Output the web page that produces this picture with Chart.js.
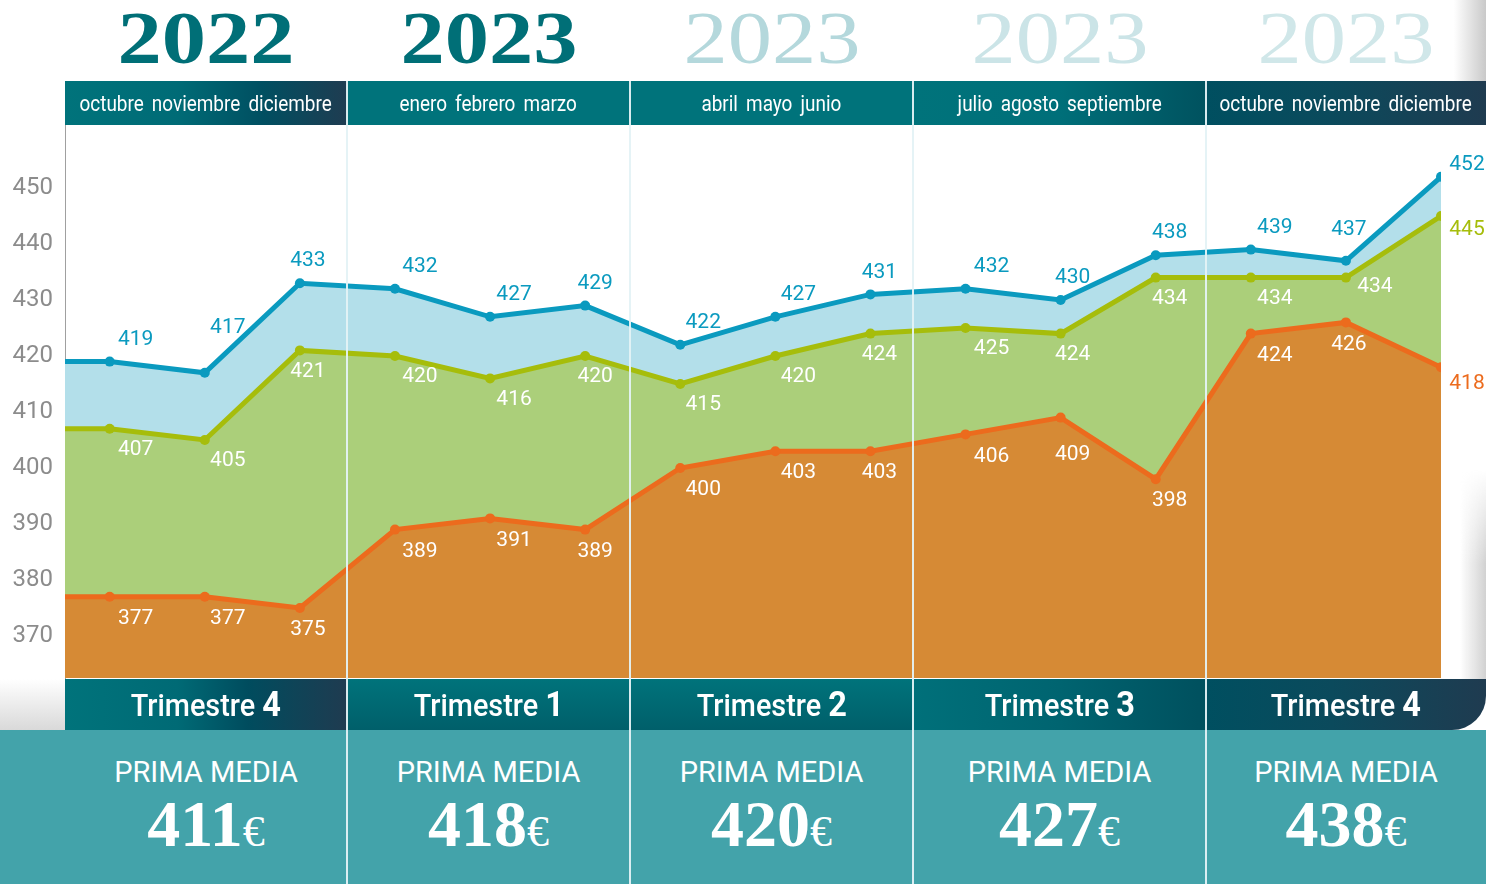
<!DOCTYPE html>
<html lang="es">
<head>
<meta charset="utf-8">
<script src="https://cdn.jsdelivr.net/npm/chart.js@4.4.1/dist/chart.umd.min.js"></script>
<style>
  body { margin: 0; background: #fff; }
  #wrap { position: relative; width: 1486px; height: 884px; overflow: hidden; font-family: Roboto, sans-serif; }
  #chart-box { position: absolute; left: 0; top: 0; width: 1486px; height: 884px; z-index: 2; }
  .abs { position: absolute; white-space: nowrap; }
  .year { top: 0; height: 76px; line-height: 76px; text-align: center; font-family: "Liberation Serif", serif; font-size: 75px; }
  .year span { display: inline-block; transform: scaleX(1.18); }
  .head { top: 81px; height: 44px; display: flex; justify-content: center; align-items: center; color: #fff; font-size: 22px; z-index: 1; }
  .head span { display: inline-block; transform: scaleX(0.86); word-spacing: 4px; }
  .tri { top: 679px; height: 51px; line-height: 51px; text-align: center; color: #fff; font-size: 31px; font-weight: 500; z-index: 1; }
  .tri span { display: inline-block; transform: scaleX(0.93); }
  .tri b { font-size: 35px; font-weight: 700; }
  .avg { top: 730px; height: 154px; text-align: center; color: #fff; z-index: 1; }
  .avg .lbl { margin-top: 25px; font-size: 29px; line-height: 34px; }
  .avg .val { font-family: "Liberation Serif", serif; font-weight: 700; font-size: 66px; line-height: 66px; margin-top: 2px; }
  .avg .val small { font-weight: 400; font-size: 44px; }
  .sep { top: 81px; width: 2px; height: 803px; background: rgba(228, 242, 245, 0.95); z-index: 3; }
  .shadow-r { left: 1446px; top: 470px; width: 40px; height: 209px;
    background: linear-gradient(to right, rgba(255,255,255,0), rgba(255,255,255,0) 35%, rgba(205,205,205,0.9));
    -webkit-mask-image: linear-gradient(to bottom, transparent, #000 45%); mask-image: linear-gradient(to bottom, transparent, #000 45%); }
</style>
</head>
<body>
<div id="wrap">
  <div class="abs" style="left:0;top:730px;width:1486px;height:154px;background:#43a3aa;"></div>
  <div class="abs" style="left:0;top:679px;width:65px;height:51px;background:linear-gradient(#ffffff,#d9d9d9);"></div>
  <div class="abs" style="left:1440px;top:0;width:46px;height:81px;background:linear-gradient(to right,rgba(255,255,255,0),rgba(255,255,255,0) 30%,#c9c9c9);"></div>
  <div class="abs shadow-r"></div>
  <div id="chart-box"><canvas id="chart"></canvas></div>
</div>
<script>
// months, one per point
const months = [
  "octubre 2022", "noviembre 2022", "diciembre 2022",
  "enero", "febrero", "marzo", "abril", "mayo", "junio",
  "julio", "agosto", "septiembre", "octubre", "noviembre", "diciembre",
];
const blueValues = [419, 417, 433, 432, 427, 429, 422, 427, 431, 432, 430, 438, 439, 437, 452];
const greenValues = [407, 405, 421, 420, 416, 420, 415, 420, 424, 425, 424, 434, 434, 434, 445];
const orangeValues = [377, 377, 375, 389, 391, 389, 400, 403, 403, 406, 409, 398, 424, 426, 418];
const yTicks = [370, 380, 390, 400, 410, 420, 430, 440, 450];

// quarter blocks
const quarterYears = ["2022", "2023", "2023", "2023", "2023"];
const quarterMonths = [
  "octubre noviembre diciembre",
  "enero febrero marzo",
  "abril mayo junio",
  "julio agosto septiembre",
  "octubre noviembre diciembre",
];
const quarterNums = [4, 1, 2, 3, 4];
const quarterAvg = [411, 418, 420, 427, 438];

// layout / style
const edges = [65, 347, 630, 913, 1206, 1486];
const yearColors = ["#006f77", "#006f77", "#b4d8dc", "#cbe4e7", "#d0e7e9"];
const yearWeights = [700, 700, 400, 400, 400];
const headBg = [
  "linear-gradient(to right,#00737b 0%,#006b76 40%,#004f61 70%,#1f3c51 100%)",
  "#00737b",
  "#00737b",
  "linear-gradient(to right,#00737b 0%,#006f79 50%,#00525f 100%)",
  "linear-gradient(to right,#004f60 0%,#0b4a5c 45%,#1f3b50 100%)",
];
const triBg = [
  "linear-gradient(to right,#00737b 0%,#006a75 40%,#004c5e 65%,#1f3b50 100%)",
  "linear-gradient(#00737b,#005f6a)",
  "linear-gradient(#00737b,#005f6a)",
  "linear-gradient(to right,#00707a 0%,#006470 50%,#00505e 100%)",
  "linear-gradient(to right,#004f60 0%,#0b4a5c 45%,#1f3b50 100%)",
];
// label offsets from the point (px)
const labelDx = [26, 23, 8, 25, 24, 10, 23, 23, 9, 26, 12, 14, 24, 3, 26];
const labelNudge = {
  "blue:1": { dy: -45 },
  "blue:13": { dy: -31 },
  "green:13": { dx: 29, dy: 9 },
  "orange:10": { dy: 37 },
};

const wrap = document.getElementById("wrap");
function addDiv(cls, style, html) {
  const d = document.createElement("div");
  d.className = "abs " + cls;
  Object.assign(d.style, style);
  d.innerHTML = html;
  wrap.appendChild(d);
  return d;
}

quarterYears.forEach((yr, q) => {
  const left = edges[q] + "px";
  const width = edges[q + 1] - edges[q] + "px";
  addDiv("year", { left, width, color: yearColors[q], fontWeight: yearWeights[q] }, `<span>${yr}</span>`);
  addDiv("head", { left, width, background: headBg[q] }, `<span>${quarterMonths[q]}</span>`);
  const tri = addDiv("tri", { left, width, background: triBg[q] }, `<span>Trimestre <b>${quarterNums[q]}</b></span>`);
  if (q === quarterYears.length - 1) tri.style.borderBottomRightRadius = "34px";
  const avgLeft = q === 0 ? "0px" : left;
  const avgWidth = q === 0 ? edges[1] + 65 + "px" : width;
  addDiv("avg", { left: avgLeft, width: avgWidth }, `<div class="lbl">PRIMA MEDIA</div><div class="val">${quarterAvg[q]}<small>€</small></div>`);
  if (q > 0) addDiv("sep", { left: edges[q] - 1 + "px" }, "");
});

// the lines start at the left edge with the first month's value
const leadIn = -0.47;
function series(values) {
  return [{ x: leadIn, y: values[0] }].concat(values.map((v, i) => ({ x: i, y: v })));
}

const pointLabels = {
  id: "pointLabels",
  afterDatasetsDraw(chart) {
    const c = chart.ctx;
    c.save();
    c.font = "21px Roboto";
    c.textAlign = "center";
    c.textBaseline = "middle";
    chart.data.datasets.forEach((ds, di) => {
      const meta = chart.getDatasetMeta(di);
      meta.data.forEach((pt, i) => {
        if (i === 0) return;
        const k = i - 1;
        const last = k === months.length - 1;
        const nudge = labelNudge[ds.label + ":" + k] || {};
        const dx = nudge.dx !== undefined ? nudge.dx : labelDx[k];
        const dy = nudge.dy !== undefined ? nudge.dy : last ? ds.lastDy : ds.labelDy;
        c.fillStyle = last ? ds.borderColor : ds.labelColor;
        c.fillText(String(ds.data[i].y), pt.x + dx, pt.y + dy);
      });
    });
    c.restore();
  },
};

new Chart(document.getElementById("chart"), {
  type: "line",
  data: {
    datasets: [
      {
        label: "orange",
        data: series(orangeValues),
        borderColor: "#ec6b1d",
        backgroundColor: "#d68a35",
        pointBackgroundColor: "#ec6b1d",
        fill: "start",
        labelColor: "#ffffff",
        labelDy: 22,
        lastDy: 17,
      },
      {
        label: "green",
        data: series(greenValues),
        borderColor: "#a6bd0b",
        backgroundColor: "#abcf7a",
        pointBackgroundColor: "#a6bd0b",
        fill: "-1",
        labelColor: "#ffffff",
        labelDy: 21,
        lastDy: 14,
      },
      {
        label: "blue",
        data: series(blueValues),
        borderColor: "#0a9abf",
        backgroundColor: "#b3dfea",
        pointBackgroundColor: "#0a9abf",
        fill: "-1",
        labelColor: "#0a9abf",
        labelDy: -22,
        lastDy: -12,
      },
    ],
  },
  options: {
    responsive: true,
    maintainAspectRatio: false,
    animation: false,
    layout: { padding: { top: 125, bottom: 206, right: 45, left: 0 } },
    elements: {
      line: { borderWidth: 5, tension: 0 },
      point: {
        radius: (ctx) => (ctx.dataIndex === 0 ? 0 : 5),
        hoverRadius: 5,
        borderWidth: 0,
      },
    },
    plugins: { legend: { display: false }, tooltip: { enabled: false } },
    scales: {
      x: { type: "linear", min: leadIn, max: months.length - 1, display: false },
      y: {
        min: 362.5,
        max: 461.25,
        afterBuildTicks: (scale) => {
          scale.ticks = yTicks.map((v) => ({ value: v }));
        },
        afterFit: (scale) => {
          scale.width = 65;
        },
        grid: { display: false },
        border: { display: true, color: "#a0a0a0", width: 1 },
        ticks: { color: "#8c8c8c", font: { family: "Roboto", size: 24 }, padding: 4 },
      },
    },
  },
  plugins: [pointLabels],
});
</script>
</body>
</html>
